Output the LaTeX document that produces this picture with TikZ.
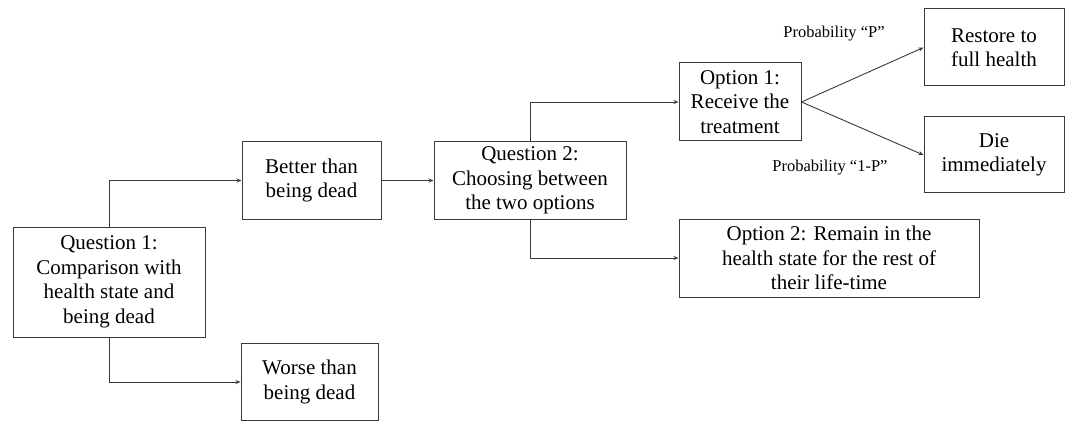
\documentclass[tikz,border=0pt]{standalone}
\usepackage{fontspec}
\setmainfont{Liberation Serif}
\usetikzlibrary{arrows.meta}
\definecolor{lc}{HTML}{3A3A3A}
\begin{document}
\begin{tikzpicture}[x=1pt,y=-1pt,
  box/.style={draw=lc,line width=1pt,inner sep=0pt,align=center,
    font=\fontsize{21}{24.5}\selectfont,text=black},
  conn/.style={draw=lc,line width=0.9pt,-{Stealth[length=5pt,width=4pt]}},
  lab/.style={font=\fontsize{16.5}{19}\selectfont,text=black}]
\useasboundingbox (0,0) rectangle (1070,422);
\node[box,minimum width=192pt,minimum height=110pt] (q1) at (109,282) {Question 1:\\Comparison with\\health state and\\being dead};
\node[box,minimum width=139pt,minimum height=77pt] (better) at (311.5,180.5) {Better than\\being dead};
\node[box,minimum width=137pt,minimum height=77pt] (worse) at (309.5,382) {Worse than\\being dead};
\node[box,minimum width=192pt,minimum height=77pt] (q2) at (530,180.5) {Question 2:\\Choosing between\\the two options};
\node[box,minimum width=122pt,minimum height=78pt] (opt1) at (740,102) {Option 1:\\Receive the\\treatment};
\node[box,minimum width=300pt,minimum height=78pt] (opt2) at (829,258) {Option 2: Remain in the\\health state for the rest of\\their life-time};
\node[box,minimum width=140pt,minimum height=77pt] (restore) at (994,47.5) {Restore to\\full health};
\node[box,minimum width=140pt,minimum height=76pt] (die) at (994,155) {Die\\immediately};
\node[lab] (lp) at (834,34) {Probability “P”};
\node[lab] (lq) at (830,168) {Probability “1-P”};
\draw[conn] (q1.north) |- (better.west);
\draw[conn] (q1.south) |- (worse.west);
\draw[conn] (better.east) -- (q2.west);
\draw[conn] (q2.north) |- (opt1.west);
\draw[conn] (q2.south) |- (opt2.west);
\draw[conn] (opt1.east) -- (restore.west);
\draw[conn] (opt1.east) -- (die.west);
\end{tikzpicture}
\end{document}
